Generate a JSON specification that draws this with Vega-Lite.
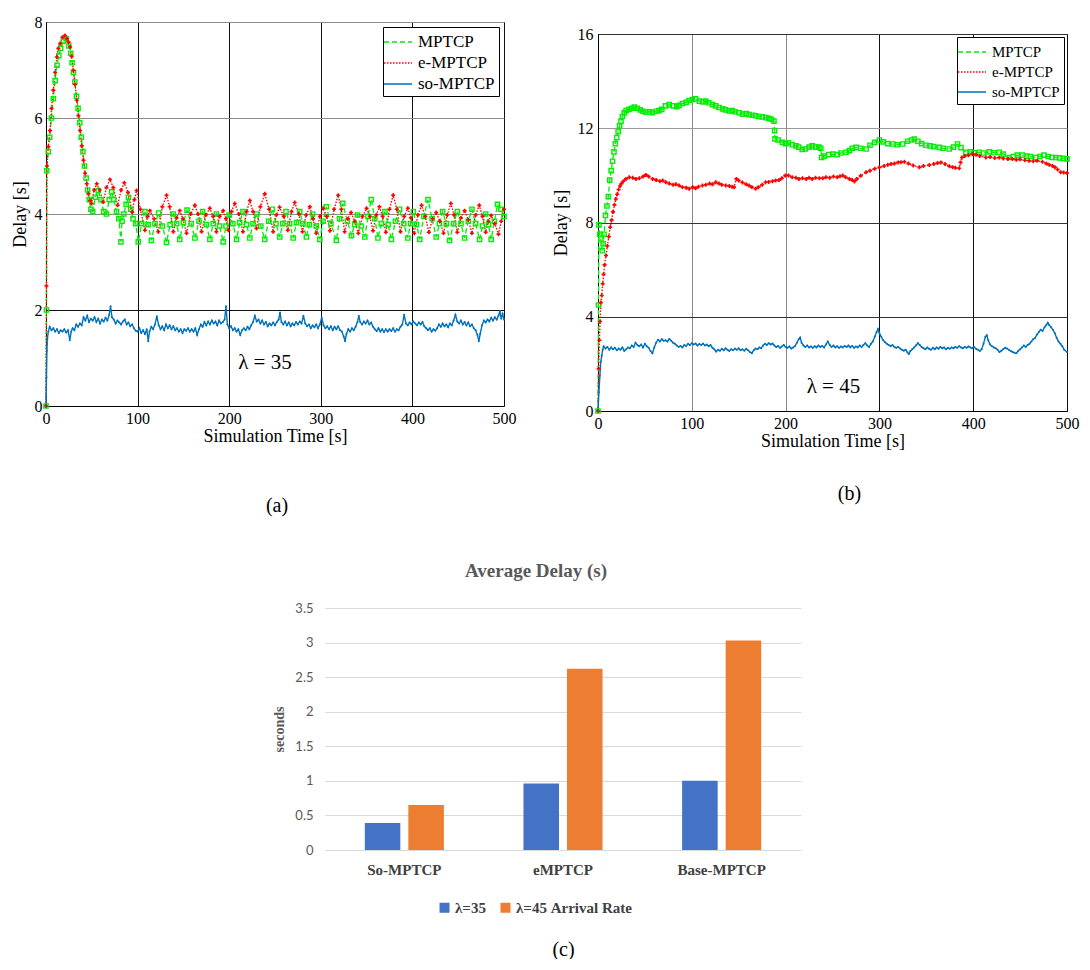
{
"$schema": "https://vega.github.io/schema/vega-lite/v6.json",
"padding": {"left": 10, "top": 13, "right": 0, "bottom": 0},
"background": "white",
"config": {"font": "Liberation Serif"},
"datasets": {
"a": [
{"s":"MPTCP","t":0,"d":0},{"s":"MPTCP","t":0.5,"d":2.0},{"s":"MPTCP","t":0.8,"d":4.9},{"s":"MPTCP","t":2.5,"d":5.3},{"s":"MPTCP","t":4,"d":5.6},{"s":"MPTCP","t":6,"d":6.0},{"s":"MPTCP","t":8,"d":6.4},{"s":"MPTCP","t":10,"d":6.78},{"s":"MPTCP","t":12,"d":7.1},{"s":"MPTCP","t":14,"d":7.3},{"s":"MPTCP","t":16,"d":7.45},{"s":"MPTCP","t":19,"d":7.6},{"s":"MPTCP","t":22,"d":7.65},{"s":"MPTCP","t":25,"d":7.5},{"s":"MPTCP","t":27,"d":7.35},{"s":"MPTCP","t":28.5,"d":7.15},{"s":"MPTCP","t":30,"d":6.95},{"s":"MPTCP","t":31.5,"d":6.75},{"s":"MPTCP","t":33.3,"d":6.45},{"s":"MPTCP","t":35,"d":6.2},{"s":"MPTCP","t":36.8,"d":5.9},{"s":"MPTCP","t":38.5,"d":5.6},{"s":"MPTCP","t":40.3,"d":5.3},{"s":"MPTCP","t":42,"d":5.0},{"s":"MPTCP","t":43.8,"d":4.75},{"s":"MPTCP","t":45.5,"d":4.5},{"s":"MPTCP","t":47.2,"d":4.3},{"s":"MPTCP","t":49,"d":4.1},{"s":"MPTCP","t":51,"d":4.05},{"s":"MPTCP","t":54,"d":4.35},{"s":"MPTCP","t":57,"d":4.49},{"s":"MPTCP","t":60,"d":4.3},{"s":"MPTCP","t":63,"d":4.05},{"s":"MPTCP","t":66,"d":4.0},{"s":"MPTCP","t":69,"d":4.3},{"s":"MPTCP","t":71.6,"d":4.46},{"s":"MPTCP","t":74,"d":4.3},{"s":"MPTCP","t":77,"d":4.05},{"s":"MPTCP","t":79.5,"d":3.9},{"s":"MPTCP","t":81.8,"d":3.42},{"s":"MPTCP","t":83,"d":3.85},{"s":"MPTCP","t":85,"d":4.0},{"s":"MPTCP","t":87.5,"d":4.2},{"s":"MPTCP","t":90,"d":4.35},{"s":"MPTCP","t":92.5,"d":4.1},{"s":"MPTCP","t":95,"d":3.9},{"s":"MPTCP","t":98,"d":3.8},{"s":"MPTCP","t":100.7,"d":3.42},{"s":"MPTCP","t":104.5,"d":3.8},{"s":"MPTCP","t":108,"d":4.05},{"s":"MPTCP","t":111.5,"d":3.78},{"s":"MPTCP","t":115,"d":3.45},{"s":"MPTCP","t":119,"d":3.8},{"s":"MPTCP","t":123,"d":4.02},{"s":"MPTCP","t":127,"d":3.75},{"s":"MPTCP","t":131.6,"d":3.41},{"s":"MPTCP","t":135.5,"d":3.78},{"s":"MPTCP","t":139,"d":4.0},{"s":"MPTCP","t":142.5,"d":3.8},{"s":"MPTCP","t":146,"d":3.47},{"s":"MPTCP","t":150,"d":3.82},{"s":"MPTCP","t":154,"d":4.08},{"s":"MPTCP","t":158.5,"d":3.8},{"s":"MPTCP","t":162.6,"d":3.5},{"s":"MPTCP","t":167,"d":3.85},{"s":"MPTCP","t":171,"d":4.05},{"s":"MPTCP","t":175,"d":3.78},{"s":"MPTCP","t":178.9,"d":3.47},{"s":"MPTCP","t":182.5,"d":3.8},{"s":"MPTCP","t":186,"d":4.0},{"s":"MPTCP","t":189.5,"d":3.75},{"s":"MPTCP","t":193.4,"d":3.42},{"s":"MPTCP","t":196.5,"d":3.75},{"s":"MPTCP","t":200,"d":3.98},{"s":"MPTCP","t":204,"d":3.8},{"s":"MPTCP","t":208,"d":3.47},{"s":"MPTCP","t":211.5,"d":3.82},{"s":"MPTCP","t":215,"d":4.05},{"s":"MPTCP","t":219,"d":3.78},{"s":"MPTCP","t":222.5,"d":3.5},{"s":"MPTCP","t":226,"d":3.8},{"s":"MPTCP","t":230,"d":4.0},{"s":"MPTCP","t":234.5,"d":3.75},{"s":"MPTCP","t":238.8,"d":3.47},{"s":"MPTCP","t":243,"d":3.85},{"s":"MPTCP","t":247,"d":4.1},{"s":"MPTCP","t":251,"d":3.8},{"s":"MPTCP","t":255.2,"d":3.52},{"s":"MPTCP","t":258.5,"d":3.8},{"s":"MPTCP","t":262,"d":4.05},{"s":"MPTCP","t":266,"d":3.8},{"s":"MPTCP","t":269.8,"d":3.5},{"s":"MPTCP","t":273.5,"d":3.82},{"s":"MPTCP","t":277,"d":4.05},{"s":"MPTCP","t":280.5,"d":3.8},{"s":"MPTCP","t":284.3,"d":3.52},{"s":"MPTCP","t":287.5,"d":3.78},{"s":"MPTCP","t":291,"d":4.0},{"s":"MPTCP","t":295,"d":3.75},{"s":"MPTCP","t":298.9,"d":3.47},{"s":"MPTCP","t":302.5,"d":3.85},{"s":"MPTCP","t":306,"d":4.15},{"s":"MPTCP","t":311,"d":3.8},{"s":"MPTCP","t":317,"d":3.45},{"s":"MPTCP","t":320.5,"d":3.9},{"s":"MPTCP","t":324,"d":4.22},{"s":"MPTCP","t":329,"d":3.85},{"s":"MPTCP","t":333.4,"d":3.55},{"s":"MPTCP","t":337,"d":3.78},{"s":"MPTCP","t":340,"d":3.98},{"s":"MPTCP","t":344,"d":3.75},{"s":"MPTCP","t":348,"d":3.52},{"s":"MPTCP","t":351.5,"d":3.95},{"s":"MPTCP","t":355,"d":4.3},{"s":"MPTCP","t":359,"d":3.9},{"s":"MPTCP","t":362.4,"d":3.5},{"s":"MPTCP","t":366,"d":3.8},{"s":"MPTCP","t":370,"d":4.05},{"s":"MPTCP","t":373.5,"d":3.78},{"s":"MPTCP","t":377,"d":3.47},{"s":"MPTCP","t":381.5,"d":3.85},{"s":"MPTCP","t":386,"d":4.1},{"s":"MPTCP","t":390.5,"d":3.8},{"s":"MPTCP","t":395,"d":3.5},{"s":"MPTCP","t":398,"d":3.8},{"s":"MPTCP","t":401,"d":4.05},{"s":"MPTCP","t":404.5,"d":3.78},{"s":"MPTCP","t":408,"d":3.47},{"s":"MPTCP","t":412.5,"d":3.95},{"s":"MPTCP","t":417,"d":4.3},{"s":"MPTCP","t":421.5,"d":3.9},{"s":"MPTCP","t":426,"d":3.52},{"s":"MPTCP","t":429.5,"d":3.8},{"s":"MPTCP","t":433,"d":4.05},{"s":"MPTCP","t":437,"d":3.8},{"s":"MPTCP","t":440.6,"d":3.45},{"s":"MPTCP","t":445,"d":3.8},{"s":"MPTCP","t":449,"d":4.05},{"s":"MPTCP","t":453,"d":3.8},{"s":"MPTCP","t":457,"d":3.5},{"s":"MPTCP","t":461,"d":3.85},{"s":"MPTCP","t":465,"d":4.1},{"s":"MPTCP","t":469,"d":3.8},{"s":"MPTCP","t":473.3,"d":3.47},{"s":"MPTCP","t":476.5,"d":3.75},{"s":"MPTCP","t":480,"d":4.0},{"s":"MPTCP","t":483,"d":3.78},{"s":"MPTCP","t":486,"d":3.47},{"s":"MPTCP","t":489.5,"d":3.85},{"s":"MPTCP","t":493,"d":4.2},{"s":"MPTCP","t":496.5,"d":4.1},{"s":"MPTCP","t":500,"d":3.95},
{"s":"e-MPTCP","t":0,"d":0},{"s":"e-MPTCP","t":0.5,"d":2.5},{"s":"e-MPTCP","t":1,"d":5.0},{"s":"e-MPTCP","t":2.5,"d":5.4},{"s":"e-MPTCP","t":4.4,"d":5.74},{"s":"e-MPTCP","t":6,"d":6.2},{"s":"e-MPTCP","t":8,"d":6.58},{"s":"e-MPTCP","t":10,"d":6.95},{"s":"e-MPTCP","t":11.8,"d":7.27},{"s":"e-MPTCP","t":13.5,"d":7.45},{"s":"e-MPTCP","t":15.4,"d":7.55},{"s":"e-MPTCP","t":18,"d":7.68},{"s":"e-MPTCP","t":20.7,"d":7.72},{"s":"e-MPTCP","t":23,"d":7.65},{"s":"e-MPTCP","t":24.7,"d":7.58},{"s":"e-MPTCP","t":26.3,"d":7.48},{"s":"e-MPTCP","t":28,"d":7.28},{"s":"e-MPTCP","t":29.9,"d":6.99},{"s":"e-MPTCP","t":31.7,"d":6.7},{"s":"e-MPTCP","t":33.6,"d":6.37},{"s":"e-MPTCP","t":35.4,"d":6.05},{"s":"e-MPTCP","t":37.2,"d":5.74},{"s":"e-MPTCP","t":39,"d":5.42},{"s":"e-MPTCP","t":40.9,"d":5.12},{"s":"e-MPTCP","t":42.7,"d":4.85},{"s":"e-MPTCP","t":44.5,"d":4.63},{"s":"e-MPTCP","t":46.3,"d":4.42},{"s":"e-MPTCP","t":48.1,"d":4.28},{"s":"e-MPTCP","t":49.8,"d":4.22},{"s":"e-MPTCP","t":52.5,"d":4.5},{"s":"e-MPTCP","t":55.4,"d":4.63},{"s":"e-MPTCP","t":58.5,"d":4.5},{"s":"e-MPTCP","t":62.6,"d":4.25},{"s":"e-MPTCP","t":66,"d":4.55},{"s":"e-MPTCP","t":69.8,"d":4.72},{"s":"e-MPTCP","t":73.5,"d":4.55},{"s":"e-MPTCP","t":78.2,"d":4.18},{"s":"e-MPTCP","t":82,"d":4.5},{"s":"e-MPTCP","t":85.5,"d":4.65},{"s":"e-MPTCP","t":89.5,"d":4.45},{"s":"e-MPTCP","t":94.2,"d":4.04},{"s":"e-MPTCP","t":96.5,"d":4.3},{"s":"e-MPTCP","t":98.9,"d":4.49},{"s":"e-MPTCP","t":103,"d":4.1},{"s":"e-MPTCP","t":108,"d":3.66},{"s":"e-MPTCP","t":111,"d":3.95},{"s":"e-MPTCP","t":113.4,"d":4.07},{"s":"e-MPTCP","t":118,"d":3.9},{"s":"e-MPTCP","t":122.6,"d":3.63},{"s":"e-MPTCP","t":127,"d":4.15},{"s":"e-MPTCP","t":131.6,"d":4.39},{"s":"e-MPTCP","t":135,"d":4.15},{"s":"e-MPTCP","t":139,"d":3.63},{"s":"e-MPTCP","t":142.5,"d":3.92},{"s":"e-MPTCP","t":146,"d":4.07},{"s":"e-MPTCP","t":149.5,"d":3.9},{"s":"e-MPTCP","t":153.4,"d":3.6},{"s":"e-MPTCP","t":158,"d":4.0},{"s":"e-MPTCP","t":162.5,"d":4.18},{"s":"e-MPTCP","t":166,"d":4.0},{"s":"e-MPTCP","t":169.8,"d":3.63},{"s":"e-MPTCP","t":174.5,"d":3.98},{"s":"e-MPTCP","t":178.8,"d":4.12},{"s":"e-MPTCP","t":182.5,"d":3.95},{"s":"e-MPTCP","t":186,"d":3.63},{"s":"e-MPTCP","t":189.5,"d":3.95},{"s":"e-MPTCP","t":193.4,"d":4.07},{"s":"e-MPTCP","t":196.5,"d":3.9},{"s":"e-MPTCP","t":199,"d":3.66},{"s":"e-MPTCP","t":202.5,"d":4.05},{"s":"e-MPTCP","t":206,"d":4.22},{"s":"e-MPTCP","t":210.5,"d":4.0},{"s":"e-MPTCP","t":215,"d":3.63},{"s":"e-MPTCP","t":219,"d":4.05},{"s":"e-MPTCP","t":222.5,"d":4.28},{"s":"e-MPTCP","t":226,"d":4.05},{"s":"e-MPTCP","t":229.8,"d":3.7},{"s":"e-MPTCP","t":234,"d":4.15},{"s":"e-MPTCP","t":238.8,"d":4.42},{"s":"e-MPTCP","t":243.5,"d":4.1},{"s":"e-MPTCP","t":248,"d":3.63},{"s":"e-MPTCP","t":251.5,"d":3.98},{"s":"e-MPTCP","t":255,"d":4.14},{"s":"e-MPTCP","t":259.5,"d":3.95},{"s":"e-MPTCP","t":264,"d":3.66},{"s":"e-MPTCP","t":268,"d":4.05},{"s":"e-MPTCP","t":271.5,"d":4.24},{"s":"e-MPTCP","t":276,"d":4.0},{"s":"e-MPTCP","t":280,"d":3.63},{"s":"e-MPTCP","t":284,"d":3.98},{"s":"e-MPTCP","t":288,"d":4.15},{"s":"e-MPTCP","t":291.5,"d":3.9},{"s":"e-MPTCP","t":295,"d":3.6},{"s":"e-MPTCP","t":299,"d":3.95},{"s":"e-MPTCP","t":302.5,"d":4.12},{"s":"e-MPTCP","t":306.5,"d":3.95},{"s":"e-MPTCP","t":310,"d":3.65},{"s":"e-MPTCP","t":314.5,"d":4.1},{"s":"e-MPTCP","t":319,"d":4.39},{"s":"e-MPTCP","t":322.5,"d":4.1},{"s":"e-MPTCP","t":326,"d":3.63},{"s":"e-MPTCP","t":329.5,"d":3.9},{"s":"e-MPTCP","t":333,"d":4.03},{"s":"e-MPTCP","t":337,"d":3.85},{"s":"e-MPTCP","t":341,"d":3.6},{"s":"e-MPTCP","t":345.5,"d":3.95},{"s":"e-MPTCP","t":350,"d":4.12},{"s":"e-MPTCP","t":353.5,"d":3.95},{"s":"e-MPTCP","t":357,"d":3.65},{"s":"e-MPTCP","t":360.5,"d":3.98},{"s":"e-MPTCP","t":364,"d":4.15},{"s":"e-MPTCP","t":367.5,"d":3.95},{"s":"e-MPTCP","t":371,"d":3.62},{"s":"e-MPTCP","t":375,"d":4.1},{"s":"e-MPTCP","t":379,"d":4.39},{"s":"e-MPTCP","t":383,"d":4.1},{"s":"e-MPTCP","t":387,"d":3.63},{"s":"e-MPTCP","t":391,"d":3.95},{"s":"e-MPTCP","t":395,"d":4.12},{"s":"e-MPTCP","t":398.5,"d":3.92},{"s":"e-MPTCP","t":402,"d":3.6},{"s":"e-MPTCP","t":406,"d":3.98},{"s":"e-MPTCP","t":410,"d":4.18},{"s":"e-MPTCP","t":414,"d":3.95},{"s":"e-MPTCP","t":418,"d":3.62},{"s":"e-MPTCP","t":422,"d":3.9},{"s":"e-MPTCP","t":426,"d":4.03},{"s":"e-MPTCP","t":430,"d":3.85},{"s":"e-MPTCP","t":434,"d":3.6},{"s":"e-MPTCP","t":438,"d":3.98},{"s":"e-MPTCP","t":442,"d":4.22},{"s":"e-MPTCP","t":445.5,"d":3.98},{"s":"e-MPTCP","t":449,"d":3.62},{"s":"e-MPTCP","t":453,"d":3.92},{"s":"e-MPTCP","t":457,"d":4.07},{"s":"e-MPTCP","t":461,"d":3.88},{"s":"e-MPTCP","t":465,"d":3.6},{"s":"e-MPTCP","t":469,"d":3.98},{"s":"e-MPTCP","t":473,"d":4.18},{"s":"e-MPTCP","t":476.5,"d":3.95},{"s":"e-MPTCP","t":480,"d":3.62},{"s":"e-MPTCP","t":483,"d":3.85},{"s":"e-MPTCP","t":486,"d":3.97},{"s":"e-MPTCP","t":490,"d":3.8},{"s":"e-MPTCP","t":494,"d":3.58},{"s":"e-MPTCP","t":497,"d":3.85},{"s":"e-MPTCP","t":500,"d":4.1},
{"s":"so-MPTCP","t":0,"d":0},{"s":"so-MPTCP","t":0.5,"d":0.6},{"s":"so-MPTCP","t":1,"d":1.15},{"s":"so-MPTCP","t":1.5,"d":1.4},{"s":"so-MPTCP","t":2.5,"d":1.55},{"s":"so-MPTCP","t":4,"d":1.65},{"s":"so-MPTCP","t":6,"d":1.58},{"s":"so-MPTCP","t":8,"d":1.62},{"s":"so-MPTCP","t":10,"d":1.55},{"s":"so-MPTCP","t":12,"d":1.6},{"s":"so-MPTCP","t":14,"d":1.52},{"s":"so-MPTCP","t":16,"d":1.58},{"s":"so-MPTCP","t":18,"d":1.55},{"s":"so-MPTCP","t":20,"d":1.6},{"s":"so-MPTCP","t":22,"d":1.53},{"s":"so-MPTCP","t":24,"d":1.58},{"s":"so-MPTCP","t":26,"d":1.37},{"s":"so-MPTCP","t":27.5,"d":1.55},{"s":"so-MPTCP","t":29,"d":1.62},{"s":"so-MPTCP","t":31,"d":1.58},{"s":"so-MPTCP","t":33,"d":1.7},{"s":"so-MPTCP","t":35,"d":1.65},{"s":"so-MPTCP","t":37,"d":1.72},{"s":"so-MPTCP","t":39,"d":1.68},{"s":"so-MPTCP","t":41,"d":1.85},{"s":"so-MPTCP","t":43,"d":1.78},{"s":"so-MPTCP","t":45,"d":1.88},{"s":"so-MPTCP","t":47,"d":1.75},{"s":"so-MPTCP","t":49,"d":1.82},{"s":"so-MPTCP","t":51,"d":1.78},{"s":"so-MPTCP","t":53,"d":1.85},{"s":"so-MPTCP","t":55,"d":1.75},{"s":"so-MPTCP","t":57,"d":1.82},{"s":"so-MPTCP","t":59,"d":1.72},{"s":"so-MPTCP","t":61,"d":1.8},{"s":"so-MPTCP","t":63,"d":1.76},{"s":"so-MPTCP","t":65,"d":1.84},{"s":"so-MPTCP","t":67,"d":1.78},{"s":"so-MPTCP","t":69,"d":1.9},{"s":"so-MPTCP","t":70.5,"d":2.08},{"s":"so-MPTCP","t":72,"d":1.85},{"s":"so-MPTCP","t":74,"d":1.8},{"s":"so-MPTCP","t":76,"d":1.72},{"s":"so-MPTCP","t":78,"d":1.78},{"s":"so-MPTCP","t":80,"d":1.74},{"s":"so-MPTCP","t":82,"d":1.7},{"s":"so-MPTCP","t":84,"d":1.76},{"s":"so-MPTCP","t":86,"d":1.8},{"s":"so-MPTCP","t":88,"d":1.7},{"s":"so-MPTCP","t":90,"d":1.74},{"s":"so-MPTCP","t":92,"d":1.66},{"s":"so-MPTCP","t":94,"d":1.7},{"s":"so-MPTCP","t":96,"d":1.62},{"s":"so-MPTCP","t":98,"d":1.57},{"s":"so-MPTCP","t":100,"d":1.55},{"s":"so-MPTCP","t":102,"d":1.62},{"s":"so-MPTCP","t":104,"d":1.52},{"s":"so-MPTCP","t":106,"d":1.58},{"s":"so-MPTCP","t":108,"d":1.5},{"s":"so-MPTCP","t":110,"d":1.6},{"s":"so-MPTCP","t":111.6,"d":1.35},{"s":"so-MPTCP","t":113,"d":1.55},{"s":"so-MPTCP","t":115,"d":1.65},{"s":"so-MPTCP","t":117,"d":1.6},{"s":"so-MPTCP","t":119,"d":1.7},{"s":"so-MPTCP","t":121,"d":1.87},{"s":"so-MPTCP","t":123,"d":1.68},{"s":"so-MPTCP","t":125,"d":1.6},{"s":"so-MPTCP","t":127,"d":1.66},{"s":"so-MPTCP","t":129,"d":1.58},{"s":"so-MPTCP","t":131,"d":1.7},{"s":"so-MPTCP","t":133,"d":1.62},{"s":"so-MPTCP","t":135,"d":1.68},{"s":"so-MPTCP","t":137,"d":1.6},{"s":"so-MPTCP","t":139,"d":1.66},{"s":"so-MPTCP","t":141,"d":1.58},{"s":"so-MPTCP","t":143,"d":1.62},{"s":"so-MPTCP","t":145,"d":1.55},{"s":"so-MPTCP","t":147,"d":1.6},{"s":"so-MPTCP","t":149,"d":1.52},{"s":"so-MPTCP","t":151,"d":1.6},{"s":"so-MPTCP","t":153,"d":1.57},{"s":"so-MPTCP","t":155,"d":1.62},{"s":"so-MPTCP","t":157,"d":1.55},{"s":"so-MPTCP","t":159,"d":1.6},{"s":"so-MPTCP","t":161,"d":1.55},{"s":"so-MPTCP","t":163,"d":1.62},{"s":"so-MPTCP","t":165,"d":1.48},{"s":"so-MPTCP","t":167,"d":1.6},{"s":"so-MPTCP","t":169,"d":1.7},{"s":"so-MPTCP","t":171,"d":1.65},{"s":"so-MPTCP","t":173,"d":1.75},{"s":"so-MPTCP","t":175,"d":1.68},{"s":"so-MPTCP","t":177,"d":1.76},{"s":"so-MPTCP","t":179,"d":1.7},{"s":"so-MPTCP","t":181,"d":1.78},{"s":"so-MPTCP","t":183,"d":1.72},{"s":"so-MPTCP","t":185,"d":1.76},{"s":"so-MPTCP","t":187,"d":1.68},{"s":"so-MPTCP","t":189,"d":1.78},{"s":"so-MPTCP","t":191,"d":1.72},{"s":"so-MPTCP","t":193,"d":1.75},{"s":"so-MPTCP","t":195,"d":1.8},{"s":"so-MPTCP","t":196.5,"d":2.08},{"s":"so-MPTCP","t":198,"d":1.7},{"s":"so-MPTCP","t":200,"d":1.62},{"s":"so-MPTCP","t":202,"d":1.66},{"s":"so-MPTCP","t":204,"d":1.58},{"s":"so-MPTCP","t":206,"d":1.62},{"s":"so-MPTCP","t":208,"d":1.55},{"s":"so-MPTCP","t":210,"d":1.6},{"s":"so-MPTCP","t":212,"d":1.48},{"s":"so-MPTCP","t":214,"d":1.58},{"s":"so-MPTCP","t":216,"d":1.62},{"s":"so-MPTCP","t":218,"d":1.58},{"s":"so-MPTCP","t":220,"d":1.65},{"s":"so-MPTCP","t":222,"d":1.6},{"s":"so-MPTCP","t":224,"d":1.68},{"s":"so-MPTCP","t":226,"d":1.75},{"s":"so-MPTCP","t":228,"d":1.88},{"s":"so-MPTCP","t":230,"d":1.76},{"s":"so-MPTCP","t":232,"d":1.8},{"s":"so-MPTCP","t":234,"d":1.72},{"s":"so-MPTCP","t":236,"d":1.78},{"s":"so-MPTCP","t":238,"d":1.7},{"s":"so-MPTCP","t":240,"d":1.75},{"s":"so-MPTCP","t":242,"d":1.66},{"s":"so-MPTCP","t":244,"d":1.72},{"s":"so-MPTCP","t":246,"d":1.68},{"s":"so-MPTCP","t":248,"d":1.74},{"s":"so-MPTCP","t":250,"d":1.68},{"s":"so-MPTCP","t":252,"d":1.75},{"s":"so-MPTCP","t":254,"d":1.8},{"s":"so-MPTCP","t":255.5,"d":1.95},{"s":"so-MPTCP","t":257,"d":1.75},{"s":"so-MPTCP","t":259,"d":1.7},{"s":"so-MPTCP","t":261,"d":1.76},{"s":"so-MPTCP","t":263,"d":1.68},{"s":"so-MPTCP","t":265,"d":1.74},{"s":"so-MPTCP","t":267,"d":1.66},{"s":"so-MPTCP","t":269,"d":1.72},{"s":"so-MPTCP","t":271,"d":1.68},{"s":"so-MPTCP","t":273,"d":1.75},{"s":"so-MPTCP","t":275,"d":1.7},{"s":"so-MPTCP","t":277,"d":1.76},{"s":"so-MPTCP","t":279,"d":1.72},{"s":"so-MPTCP","t":281,"d":1.88},{"s":"so-MPTCP","t":283,"d":1.72},{"s":"so-MPTCP","t":285,"d":1.66},{"s":"so-MPTCP","t":287,"d":1.7},{"s":"so-MPTCP","t":289,"d":1.62},{"s":"so-MPTCP","t":291,"d":1.68},{"s":"so-MPTCP","t":293,"d":1.64},{"s":"so-MPTCP","t":295,"d":1.7},{"s":"so-MPTCP","t":297,"d":1.62},{"s":"so-MPTCP","t":299,"d":1.7},{"s":"so-MPTCP","t":301,"d":1.84},{"s":"so-MPTCP","t":303,"d":1.68},{"s":"so-MPTCP","t":305,"d":1.62},{"s":"so-MPTCP","t":307,"d":1.66},{"s":"so-MPTCP","t":309,"d":1.6},{"s":"so-MPTCP","t":311,"d":1.66},{"s":"so-MPTCP","t":313,"d":1.58},{"s":"so-MPTCP","t":315,"d":1.65},{"s":"so-MPTCP","t":317,"d":1.6},{"s":"so-MPTCP","t":319,"d":1.66},{"s":"so-MPTCP","t":321,"d":1.58},{"s":"so-MPTCP","t":323,"d":1.55},{"s":"so-MPTCP","t":325,"d":1.45},{"s":"so-MPTCP","t":326.5,"d":1.35},{"s":"so-MPTCP","t":328,"d":1.5},{"s":"so-MPTCP","t":330,"d":1.6},{"s":"so-MPTCP","t":332,"d":1.55},{"s":"so-MPTCP","t":334,"d":1.62},{"s":"so-MPTCP","t":336,"d":1.58},{"s":"so-MPTCP","t":338,"d":1.65},{"s":"so-MPTCP","t":340,"d":1.75},{"s":"so-MPTCP","t":341.5,"d":1.88},{"s":"so-MPTCP","t":343,"d":1.75},{"s":"so-MPTCP","t":345,"d":1.7},{"s":"so-MPTCP","t":347,"d":1.76},{"s":"so-MPTCP","t":349,"d":1.72},{"s":"so-MPTCP","t":351,"d":1.78},{"s":"so-MPTCP","t":353,"d":1.7},{"s":"so-MPTCP","t":355,"d":1.74},{"s":"so-MPTCP","t":357,"d":1.65},{"s":"so-MPTCP","t":359,"d":1.6},{"s":"so-MPTCP","t":361,"d":1.56},{"s":"so-MPTCP","t":363,"d":1.62},{"s":"so-MPTCP","t":365,"d":1.55},{"s":"so-MPTCP","t":367,"d":1.6},{"s":"so-MPTCP","t":369,"d":1.54},{"s":"so-MPTCP","t":371,"d":1.6},{"s":"so-MPTCP","t":373,"d":1.55},{"s":"so-MPTCP","t":375,"d":1.6},{"s":"so-MPTCP","t":377,"d":1.56},{"s":"so-MPTCP","t":379,"d":1.62},{"s":"so-MPTCP","t":381,"d":1.55},{"s":"so-MPTCP","t":383,"d":1.6},{"s":"so-MPTCP","t":385,"d":1.58},{"s":"so-MPTCP","t":387,"d":1.65},{"s":"so-MPTCP","t":389,"d":1.7},{"s":"so-MPTCP","t":391,"d":1.9},{"s":"so-MPTCP","t":393,"d":1.72},{"s":"so-MPTCP","t":395,"d":1.68},{"s":"so-MPTCP","t":397,"d":1.74},{"s":"so-MPTCP","t":399,"d":1.7},{"s":"so-MPTCP","t":401,"d":1.76},{"s":"so-MPTCP","t":403,"d":1.72},{"s":"so-MPTCP","t":405,"d":1.68},{"s":"so-MPTCP","t":407,"d":1.74},{"s":"so-MPTCP","t":409,"d":1.7},{"s":"so-MPTCP","t":411,"d":1.75},{"s":"so-MPTCP","t":413,"d":1.66},{"s":"so-MPTCP","t":415,"d":1.62},{"s":"so-MPTCP","t":417,"d":1.58},{"s":"so-MPTCP","t":419,"d":1.62},{"s":"so-MPTCP","t":421,"d":1.55},{"s":"so-MPTCP","t":423,"d":1.6},{"s":"so-MPTCP","t":425,"d":1.57},{"s":"so-MPTCP","t":427,"d":1.62},{"s":"so-MPTCP","t":429,"d":1.7},{"s":"so-MPTCP","t":431,"d":1.65},{"s":"so-MPTCP","t":433,"d":1.72},{"s":"so-MPTCP","t":435,"d":1.66},{"s":"so-MPTCP","t":437,"d":1.7},{"s":"so-MPTCP","t":439,"d":1.64},{"s":"so-MPTCP","t":441,"d":1.72},{"s":"so-MPTCP","t":443,"d":1.68},{"s":"so-MPTCP","t":445,"d":1.78},{"s":"so-MPTCP","t":447,"d":1.9},{"s":"so-MPTCP","t":449,"d":1.76},{"s":"so-MPTCP","t":451,"d":1.72},{"s":"so-MPTCP","t":453,"d":1.78},{"s":"so-MPTCP","t":455,"d":1.7},{"s":"so-MPTCP","t":457,"d":1.75},{"s":"so-MPTCP","t":459,"d":1.68},{"s":"so-MPTCP","t":461,"d":1.74},{"s":"so-MPTCP","t":463,"d":1.66},{"s":"so-MPTCP","t":465,"d":1.7},{"s":"so-MPTCP","t":467,"d":1.62},{"s":"so-MPTCP","t":469,"d":1.58},{"s":"so-MPTCP","t":471,"d":1.48},{"s":"so-MPTCP","t":472.5,"d":1.35},{"s":"so-MPTCP","t":474,"d":1.5},{"s":"so-MPTCP","t":476,"d":1.68},{"s":"so-MPTCP","t":478,"d":1.78},{"s":"so-MPTCP","t":480,"d":1.74},{"s":"so-MPTCP","t":482,"d":1.8},{"s":"so-MPTCP","t":484,"d":1.76},{"s":"so-MPTCP","t":486,"d":1.84},{"s":"so-MPTCP","t":488,"d":1.78},{"s":"so-MPTCP","t":490,"d":1.85},{"s":"so-MPTCP","t":492,"d":1.8},{"s":"so-MPTCP","t":494,"d":1.88},{"s":"so-MPTCP","t":495.5,"d":1.98},{"s":"so-MPTCP","t":497,"d":1.82},{"s":"so-MPTCP","t":498.5,"d":1.92},{"s":"so-MPTCP","t":500,"d":1.8}
],
"b": [
{"s":"MPTCP","t":0,"d":0},{"s":"MPTCP","t":0.5,"d":4.5},{"s":"MPTCP","t":1,"d":7.9},{"s":"MPTCP","t":2,"d":7.5},{"s":"MPTCP","t":3,"d":7.3},{"s":"MPTCP","t":4.5,"d":6.8},{"s":"MPTCP","t":5.5,"d":7.1},{"s":"MPTCP","t":6.5,"d":7.5},{"s":"MPTCP","t":8,"d":8.3},{"s":"MPTCP","t":9.5,"d":8.7},{"s":"MPTCP","t":11,"d":9.1},{"s":"MPTCP","t":12.5,"d":9.8},{"s":"MPTCP","t":14,"d":10.2},{"s":"MPTCP","t":15.5,"d":10.6},{"s":"MPTCP","t":17,"d":11.0},{"s":"MPTCP","t":18.5,"d":11.35},{"s":"MPTCP","t":20,"d":11.6},{"s":"MPTCP","t":21.5,"d":11.85},{"s":"MPTCP","t":23,"d":12.1},{"s":"MPTCP","t":24.5,"d":12.3},{"s":"MPTCP","t":26,"d":12.5},{"s":"MPTCP","t":28,"d":12.65},{"s":"MPTCP","t":30,"d":12.75},{"s":"MPTCP","t":33,"d":12.8},{"s":"MPTCP","t":36,"d":12.85},{"s":"MPTCP","t":38.7,"d":12.9},{"s":"MPTCP","t":42,"d":12.85},{"s":"MPTCP","t":45,"d":12.78},{"s":"MPTCP","t":48,"d":12.72},{"s":"MPTCP","t":51,"d":12.68},{"s":"MPTCP","t":55,"d":12.7},{"s":"MPTCP","t":58,"d":12.66},{"s":"MPTCP","t":62,"d":12.72},{"s":"MPTCP","t":65,"d":12.75},{"s":"MPTCP","t":68,"d":12.8},{"s":"MPTCP","t":72,"d":12.95},{"s":"MPTCP","t":75.9,"d":13.0},{"s":"MPTCP","t":80,"d":12.95},{"s":"MPTCP","t":84,"d":12.92},{"s":"MPTCP","t":86.5,"d":12.97},{"s":"MPTCP","t":90,"d":13.05},{"s":"MPTCP","t":94,"d":13.1},{"s":"MPTCP","t":97,"d":13.18},{"s":"MPTCP","t":100.7,"d":13.22},{"s":"MPTCP","t":104,"d":13.25},{"s":"MPTCP","t":108,"d":13.15},{"s":"MPTCP","t":112,"d":13.12},{"s":"MPTCP","t":114.9,"d":13.15},{"s":"MPTCP","t":118,"d":13.08},{"s":"MPTCP","t":122,"d":13.0},{"s":"MPTCP","t":125.5,"d":12.95},{"s":"MPTCP","t":129,"d":12.88},{"s":"MPTCP","t":133,"d":12.82},{"s":"MPTCP","t":136,"d":12.78},{"s":"MPTCP","t":139.7,"d":12.73},{"s":"MPTCP","t":143,"d":12.75},{"s":"MPTCP","t":146,"d":12.7},{"s":"MPTCP","t":150.4,"d":12.66},{"s":"MPTCP","t":154,"d":12.6},{"s":"MPTCP","t":158,"d":12.62},{"s":"MPTCP","t":161,"d":12.58},{"s":"MPTCP","t":165,"d":12.55},{"s":"MPTCP","t":168,"d":12.53},{"s":"MPTCP","t":171.6,"d":12.5},{"s":"MPTCP","t":175,"d":12.48},{"s":"MPTCP","t":179,"d":12.45},{"s":"MPTCP","t":182.3,"d":12.42},{"s":"MPTCP","t":185,"d":12.38},{"s":"MPTCP","t":187.6,"d":12.3},{"s":"MPTCP","t":188.3,"d":11.9},{"s":"MPTCP","t":188.7,"d":11.55},{"s":"MPTCP","t":192,"d":11.5},{"s":"MPTCP","t":196.5,"d":11.4},{"s":"MPTCP","t":200,"d":11.35},{"s":"MPTCP","t":203,"d":11.38},{"s":"MPTCP","t":207,"d":11.3},{"s":"MPTCP","t":211,"d":11.25},{"s":"MPTCP","t":214,"d":11.2},{"s":"MPTCP","t":217.7,"d":11.1},{"s":"MPTCP","t":221,"d":11.12},{"s":"MPTCP","t":225,"d":11.2},{"s":"MPTCP","t":228.4,"d":11.25},{"s":"MPTCP","t":232,"d":11.2},{"s":"MPTCP","t":235.5,"d":11.2},{"s":"MPTCP","t":237.5,"d":11.15},{"s":"MPTCP","t":238.3,"d":10.76},{"s":"MPTCP","t":241,"d":10.82},{"s":"MPTCP","t":246,"d":10.88},{"s":"MPTCP","t":250.4,"d":10.9},{"s":"MPTCP","t":255,"d":10.88},{"s":"MPTCP","t":259,"d":10.95},{"s":"MPTCP","t":264.5,"d":10.98},{"s":"MPTCP","t":268,"d":11.05},{"s":"MPTCP","t":271,"d":11.15},{"s":"MPTCP","t":275.2,"d":11.19},{"s":"MPTCP","t":280,"d":11.15},{"s":"MPTCP","t":285.8,"d":11.12},{"s":"MPTCP","t":290,"d":11.28},{"s":"MPTCP","t":295,"d":11.4},{"s":"MPTCP","t":300,"d":11.5},{"s":"MPTCP","t":304,"d":11.42},{"s":"MPTCP","t":309,"d":11.35},{"s":"MPTCP","t":314.2,"d":11.33},{"s":"MPTCP","t":319,"d":11.3},{"s":"MPTCP","t":324.8,"d":11.33},{"s":"MPTCP","t":330,"d":11.45},{"s":"MPTCP","t":334,"d":11.5},{"s":"MPTCP","t":337.2,"d":11.54},{"s":"MPTCP","t":341,"d":11.45},{"s":"MPTCP","t":345,"d":11.35},{"s":"MPTCP","t":349.6,"d":11.28},{"s":"MPTCP","t":354,"d":11.25},{"s":"MPTCP","t":358,"d":11.22},{"s":"MPTCP","t":363.8,"d":11.19},{"s":"MPTCP","t":368,"d":11.15},{"s":"MPTCP","t":374.5,"d":11.12},{"s":"MPTCP","t":379,"d":11.2},{"s":"MPTCP","t":383.3,"d":11.33},{"s":"MPTCP","t":387,"d":11.18},{"s":"MPTCP","t":392.2,"d":10.98},{"s":"MPTCP","t":397,"d":11.0},{"s":"MPTCP","t":401,"d":10.96},{"s":"MPTCP","t":406.4,"d":10.98},{"s":"MPTCP","t":411,"d":10.95},{"s":"MPTCP","t":417,"d":11.0},{"s":"MPTCP","t":422,"d":10.96},{"s":"MPTCP","t":427.7,"d":10.98},{"s":"MPTCP","t":432,"d":10.9},{"s":"MPTCP","t":438.3,"d":10.76},{"s":"MPTCP","t":443,"d":10.8},{"s":"MPTCP","t":447,"d":10.86},{"s":"MPTCP","t":452.5,"d":10.86},{"s":"MPTCP","t":457,"d":10.82},{"s":"MPTCP","t":461,"d":10.8},{"s":"MPTCP","t":466.7,"d":10.76},{"s":"MPTCP","t":471,"d":10.8},{"s":"MPTCP","t":475.5,"d":10.86},{"s":"MPTCP","t":480,"d":10.8},{"s":"MPTCP","t":484,"d":10.76},{"s":"MPTCP","t":488,"d":10.76},{"s":"MPTCP","t":492,"d":10.74},{"s":"MPTCP","t":496,"d":10.72},{"s":"MPTCP","t":500,"d":10.7},
{"s":"e-MPTCP","t":0,"d":0},{"s":"e-MPTCP","t":0.7,"d":1.8},{"s":"e-MPTCP","t":1.5,"d":3.0},{"s":"e-MPTCP","t":2.2,"d":3.8},{"s":"e-MPTCP","t":3,"d":4.6},{"s":"e-MPTCP","t":4,"d":4.9},{"s":"e-MPTCP","t":5,"d":5.4},{"s":"e-MPTCP","t":6,"d":5.8},{"s":"e-MPTCP","t":7,"d":6.2},{"s":"e-MPTCP","t":8.5,"d":6.6},{"s":"e-MPTCP","t":10,"d":7.0},{"s":"e-MPTCP","t":11.5,"d":7.4},{"s":"e-MPTCP","t":13,"d":7.8},{"s":"e-MPTCP","t":14.5,"d":8.1},{"s":"e-MPTCP","t":16,"d":8.45},{"s":"e-MPTCP","t":17.5,"d":8.75},{"s":"e-MPTCP","t":19,"d":9.0},{"s":"e-MPTCP","t":20.5,"d":9.2},{"s":"e-MPTCP","t":22,"d":9.4},{"s":"e-MPTCP","t":23.5,"d":9.55},{"s":"e-MPTCP","t":25,"d":9.65},{"s":"e-MPTCP","t":27,"d":9.75},{"s":"e-MPTCP","t":29.8,"d":9.85},{"s":"e-MPTCP","t":33.3,"d":9.92},{"s":"e-MPTCP","t":37,"d":9.9},{"s":"e-MPTCP","t":40.4,"d":9.85},{"s":"e-MPTCP","t":44,"d":9.88},{"s":"e-MPTCP","t":48,"d":9.95},{"s":"e-MPTCP","t":51,"d":10.02},{"s":"e-MPTCP","t":54,"d":9.95},{"s":"e-MPTCP","t":58.2,"d":9.85},{"s":"e-MPTCP","t":62,"d":9.8},{"s":"e-MPTCP","t":66,"d":9.75},{"s":"e-MPTCP","t":69,"d":9.78},{"s":"e-MPTCP","t":72.3,"d":9.71},{"s":"e-MPTCP","t":76,"d":9.65},{"s":"e-MPTCP","t":80,"d":9.6},{"s":"e-MPTCP","t":83,"d":9.62},{"s":"e-MPTCP","t":86.5,"d":9.57},{"s":"e-MPTCP","t":90,"d":9.5},{"s":"e-MPTCP","t":94,"d":9.48},{"s":"e-MPTCP","t":97.2,"d":9.43},{"s":"e-MPTCP","t":101,"d":9.5},{"s":"e-MPTCP","t":104,"d":9.45},{"s":"e-MPTCP","t":107,"d":9.52},{"s":"e-MPTCP","t":111.3,"d":9.57},{"s":"e-MPTCP","t":115,"d":9.6},{"s":"e-MPTCP","t":119,"d":9.65},{"s":"e-MPTCP","t":122,"d":9.62},{"s":"e-MPTCP","t":125.5,"d":9.71},{"s":"e-MPTCP","t":129,"d":9.65},{"s":"e-MPTCP","t":132,"d":9.6},{"s":"e-MPTCP","t":136.2,"d":9.57},{"s":"e-MPTCP","t":140,"d":9.55},{"s":"e-MPTCP","t":143,"d":9.52},{"s":"e-MPTCP","t":145,"d":9.5},{"s":"e-MPTCP","t":147.5,"d":9.85},{"s":"e-MPTCP","t":150,"d":9.78},{"s":"e-MPTCP","t":154,"d":9.7},{"s":"e-MPTCP","t":158,"d":9.62},{"s":"e-MPTCP","t":161,"d":9.57},{"s":"e-MPTCP","t":164,"d":9.5},{"s":"e-MPTCP","t":168,"d":9.43},{"s":"e-MPTCP","t":171,"d":9.5},{"s":"e-MPTCP","t":175,"d":9.6},{"s":"e-MPTCP","t":178.7,"d":9.71},{"s":"e-MPTCP","t":182,"d":9.72},{"s":"e-MPTCP","t":186,"d":9.75},{"s":"e-MPTCP","t":189.4,"d":9.78},{"s":"e-MPTCP","t":193,"d":9.8},{"s":"e-MPTCP","t":196,"d":9.88},{"s":"e-MPTCP","t":199.6,"d":9.99},{"s":"e-MPTCP","t":203,"d":10.0},{"s":"e-MPTCP","t":207,"d":9.92},{"s":"e-MPTCP","t":211,"d":9.9},{"s":"e-MPTCP","t":214.2,"d":9.85},{"s":"e-MPTCP","t":218,"d":9.88},{"s":"e-MPTCP","t":222,"d":9.85},{"s":"e-MPTCP","t":225,"d":9.9},{"s":"e-MPTCP","t":228.4,"d":9.85},{"s":"e-MPTCP","t":232,"d":9.9},{"s":"e-MPTCP","t":236,"d":9.88},{"s":"e-MPTCP","t":239.7,"d":9.88},{"s":"e-MPTCP","t":243,"d":9.92},{"s":"e-MPTCP","t":247,"d":9.9},{"s":"e-MPTCP","t":251,"d":9.95},{"s":"e-MPTCP","t":255,"d":9.92},{"s":"e-MPTCP","t":258,"d":9.96},{"s":"e-MPTCP","t":261,"d":9.99},{"s":"e-MPTCP","t":264,"d":9.92},{"s":"e-MPTCP","t":268,"d":9.85},{"s":"e-MPTCP","t":271,"d":9.8},{"s":"e-MPTCP","t":273.4,"d":9.74},{"s":"e-MPTCP","t":276,"d":9.85},{"s":"e-MPTCP","t":280,"d":9.98},{"s":"e-MPTCP","t":285.8,"d":10.13},{"s":"e-MPTCP","t":290,"d":10.2},{"s":"e-MPTCP","t":295,"d":10.28},{"s":"e-MPTCP","t":300,"d":10.34},{"s":"e-MPTCP","t":305,"d":10.4},{"s":"e-MPTCP","t":309,"d":10.45},{"s":"e-MPTCP","t":312.4,"d":10.48},{"s":"e-MPTCP","t":316,"d":10.5},{"s":"e-MPTCP","t":320,"d":10.55},{"s":"e-MPTCP","t":323,"d":10.56},{"s":"e-MPTCP","t":326.6,"d":10.58},{"s":"e-MPTCP","t":331,"d":10.5},{"s":"e-MPTCP","t":336,"d":10.42},{"s":"e-MPTCP","t":342.6,"d":10.34},{"s":"e-MPTCP","t":347,"d":10.4},{"s":"e-MPTCP","t":353.2,"d":10.44},{"s":"e-MPTCP","t":358,"d":10.48},{"s":"e-MPTCP","t":362,"d":10.52},{"s":"e-MPTCP","t":365.6,"d":10.55},{"s":"e-MPTCP","t":370,"d":10.48},{"s":"e-MPTCP","t":374.5,"d":10.39},{"s":"e-MPTCP","t":378,"d":10.35},{"s":"e-MPTCP","t":381,"d":10.32},{"s":"e-MPTCP","t":385.1,"d":10.3},{"s":"e-MPTCP","t":386.5,"d":10.55},{"s":"e-MPTCP","t":388,"d":10.76},{"s":"e-MPTCP","t":391,"d":10.82},{"s":"e-MPTCP","t":395,"d":10.85},{"s":"e-MPTCP","t":399.3,"d":10.9},{"s":"e-MPTCP","t":403,"d":10.88},{"s":"e-MPTCP","t":407,"d":10.82},{"s":"e-MPTCP","t":413.5,"d":10.76},{"s":"e-MPTCP","t":418,"d":10.78},{"s":"e-MPTCP","t":423,"d":10.74},{"s":"e-MPTCP","t":427.7,"d":10.76},{"s":"e-MPTCP","t":432,"d":10.72},{"s":"e-MPTCP","t":437,"d":10.7},{"s":"e-MPTCP","t":441.8,"d":10.69},{"s":"e-MPTCP","t":446,"d":10.66},{"s":"e-MPTCP","t":450,"d":10.68},{"s":"e-MPTCP","t":455,"d":10.64},{"s":"e-MPTCP","t":459.6,"d":10.62},{"s":"e-MPTCP","t":464,"d":10.6},{"s":"e-MPTCP","t":468,"d":10.62},{"s":"e-MPTCP","t":473.8,"d":10.58},{"s":"e-MPTCP","t":478,"d":10.5},{"s":"e-MPTCP","t":481,"d":10.45},{"s":"e-MPTCP","t":484.4,"d":10.41},{"s":"e-MPTCP","t":487,"d":10.35},{"s":"e-MPTCP","t":490,"d":10.25},{"s":"e-MPTCP","t":493.3,"d":10.13},{"s":"e-MPTCP","t":496.5,"d":10.12},{"s":"e-MPTCP","t":500,"d":10.1},
{"s":"so-MPTCP","t":0,"d":0},{"s":"so-MPTCP","t":1,"d":0.8},{"s":"so-MPTCP","t":2,"d":1.5},{"s":"so-MPTCP","t":3,"d":2.1},{"s":"so-MPTCP","t":4,"d":2.35},{"s":"so-MPTCP","t":5,"d":2.6},{"s":"so-MPTCP","t":6,"d":2.75},{"s":"so-MPTCP","t":8,"d":2.65},{"s":"so-MPTCP","t":10,"d":2.72},{"s":"so-MPTCP","t":12,"d":2.6},{"s":"so-MPTCP","t":14,"d":2.7},{"s":"so-MPTCP","t":16,"d":2.62},{"s":"so-MPTCP","t":18,"d":2.68},{"s":"so-MPTCP","t":20,"d":2.58},{"s":"so-MPTCP","t":22,"d":2.65},{"s":"so-MPTCP","t":24,"d":2.6},{"s":"so-MPTCP","t":26,"d":2.7},{"s":"so-MPTCP","t":28,"d":2.55},{"s":"so-MPTCP","t":30,"d":2.62},{"s":"so-MPTCP","t":32,"d":2.7},{"s":"so-MPTCP","t":34,"d":2.66},{"s":"so-MPTCP","t":36,"d":2.78},{"s":"so-MPTCP","t":38,"d":2.72},{"s":"so-MPTCP","t":40,"d":2.9},{"s":"so-MPTCP","t":42,"d":2.8},{"s":"so-MPTCP","t":44,"d":2.75},{"s":"so-MPTCP","t":46,"d":2.82},{"s":"so-MPTCP","t":48,"d":2.7},{"s":"so-MPTCP","t":50,"d":2.85},{"s":"so-MPTCP","t":52,"d":2.75},{"s":"so-MPTCP","t":54,"d":2.68},{"s":"so-MPTCP","t":56,"d":2.55},{"s":"so-MPTCP","t":58,"d":2.45},{"s":"so-MPTCP","t":60,"d":2.7},{"s":"so-MPTCP","t":62,"d":2.9},{"s":"so-MPTCP","t":64,"d":3.02},{"s":"so-MPTCP","t":66,"d":2.95},{"s":"so-MPTCP","t":68,"d":3.05},{"s":"so-MPTCP","t":70,"d":2.98},{"s":"so-MPTCP","t":72,"d":3.0},{"s":"so-MPTCP","t":74,"d":2.95},{"s":"so-MPTCP","t":76,"d":3.06},{"s":"so-MPTCP","t":78,"d":2.98},{"s":"so-MPTCP","t":80,"d":2.9},{"s":"so-MPTCP","t":82,"d":2.85},{"s":"so-MPTCP","t":84,"d":2.78},{"s":"so-MPTCP","t":86,"d":2.72},{"s":"so-MPTCP","t":88,"d":2.76},{"s":"so-MPTCP","t":90,"d":2.7},{"s":"so-MPTCP","t":92,"d":2.8},{"s":"so-MPTCP","t":94,"d":2.76},{"s":"so-MPTCP","t":96,"d":2.85},{"s":"so-MPTCP","t":98,"d":2.8},{"s":"so-MPTCP","t":100,"d":2.88},{"s":"so-MPTCP","t":102,"d":2.82},{"s":"so-MPTCP","t":104,"d":2.86},{"s":"so-MPTCP","t":106,"d":2.78},{"s":"so-MPTCP","t":108,"d":2.84},{"s":"so-MPTCP","t":110,"d":2.8},{"s":"so-MPTCP","t":112,"d":2.86},{"s":"so-MPTCP","t":114,"d":2.78},{"s":"so-MPTCP","t":116,"d":2.82},{"s":"so-MPTCP","t":118,"d":2.75},{"s":"so-MPTCP","t":120,"d":2.8},{"s":"so-MPTCP","t":122,"d":2.68},{"s":"so-MPTCP","t":124,"d":2.62},{"s":"so-MPTCP","t":126,"d":2.52},{"s":"so-MPTCP","t":128,"d":2.6},{"s":"so-MPTCP","t":130,"d":2.56},{"s":"so-MPTCP","t":132,"d":2.64},{"s":"so-MPTCP","t":134,"d":2.58},{"s":"so-MPTCP","t":136,"d":2.66},{"s":"so-MPTCP","t":138,"d":2.6},{"s":"so-MPTCP","t":140,"d":2.55},{"s":"so-MPTCP","t":142,"d":2.62},{"s":"so-MPTCP","t":144,"d":2.58},{"s":"so-MPTCP","t":146,"d":2.65},{"s":"so-MPTCP","t":148,"d":2.6},{"s":"so-MPTCP","t":150,"d":2.66},{"s":"so-MPTCP","t":152,"d":2.58},{"s":"so-MPTCP","t":154,"d":2.62},{"s":"so-MPTCP","t":156,"d":2.56},{"s":"so-MPTCP","t":158,"d":2.64},{"s":"so-MPTCP","t":160,"d":2.58},{"s":"so-MPTCP","t":162,"d":2.5},{"s":"so-MPTCP","t":164,"d":2.45},{"s":"so-MPTCP","t":166,"d":2.58},{"s":"so-MPTCP","t":168,"d":2.65},{"s":"so-MPTCP","t":170,"d":2.62},{"s":"so-MPTCP","t":172,"d":2.7},{"s":"so-MPTCP","t":174,"d":2.66},{"s":"so-MPTCP","t":176,"d":2.78},{"s":"so-MPTCP","t":178,"d":2.85},{"s":"so-MPTCP","t":180,"d":2.8},{"s":"so-MPTCP","t":182,"d":2.88},{"s":"so-MPTCP","t":184,"d":2.82},{"s":"so-MPTCP","t":186,"d":2.86},{"s":"so-MPTCP","t":188,"d":2.78},{"s":"so-MPTCP","t":190,"d":2.72},{"s":"so-MPTCP","t":192,"d":2.76},{"s":"so-MPTCP","t":194,"d":2.68},{"s":"so-MPTCP","t":196,"d":2.74},{"s":"so-MPTCP","t":198,"d":2.8},{"s":"so-MPTCP","t":200,"d":2.72},{"s":"so-MPTCP","t":202,"d":2.68},{"s":"so-MPTCP","t":204,"d":2.74},{"s":"so-MPTCP","t":206,"d":2.65},{"s":"so-MPTCP","t":208,"d":2.7},{"s":"so-MPTCP","t":210,"d":2.75},{"s":"so-MPTCP","t":212,"d":2.9},{"s":"so-MPTCP","t":214,"d":3.05},{"s":"so-MPTCP","t":215.5,"d":3.12},{"s":"so-MPTCP","t":217,"d":2.9},{"s":"so-MPTCP","t":219,"d":2.78},{"s":"so-MPTCP","t":221,"d":2.72},{"s":"so-MPTCP","t":223,"d":2.78},{"s":"so-MPTCP","t":225,"d":2.7},{"s":"so-MPTCP","t":227,"d":2.74},{"s":"so-MPTCP","t":229,"d":2.68},{"s":"so-MPTCP","t":231,"d":2.75},{"s":"so-MPTCP","t":233,"d":2.7},{"s":"so-MPTCP","t":235,"d":2.78},{"s":"so-MPTCP","t":237,"d":2.72},{"s":"so-MPTCP","t":239,"d":2.76},{"s":"so-MPTCP","t":241,"d":2.7},{"s":"so-MPTCP","t":243,"d":2.82},{"s":"so-MPTCP","t":245,"d":2.95},{"s":"so-MPTCP","t":247,"d":2.8},{"s":"so-MPTCP","t":249,"d":2.72},{"s":"so-MPTCP","t":251,"d":2.78},{"s":"so-MPTCP","t":253,"d":2.7},{"s":"so-MPTCP","t":255,"d":2.75},{"s":"so-MPTCP","t":257,"d":2.68},{"s":"so-MPTCP","t":259,"d":2.74},{"s":"so-MPTCP","t":261,"d":2.7},{"s":"so-MPTCP","t":263,"d":2.76},{"s":"so-MPTCP","t":265,"d":2.72},{"s":"so-MPTCP","t":267,"d":2.78},{"s":"so-MPTCP","t":269,"d":2.7},{"s":"so-MPTCP","t":271,"d":2.76},{"s":"so-MPTCP","t":273,"d":2.68},{"s":"so-MPTCP","t":275,"d":2.74},{"s":"so-MPTCP","t":277,"d":2.7},{"s":"so-MPTCP","t":279,"d":2.78},{"s":"so-MPTCP","t":281,"d":2.72},{"s":"so-MPTCP","t":283,"d":2.8},{"s":"so-MPTCP","t":285,"d":2.88},{"s":"so-MPTCP","t":287,"d":2.78},{"s":"so-MPTCP","t":289,"d":2.72},{"s":"so-MPTCP","t":291,"d":2.85},{"s":"so-MPTCP","t":293,"d":2.95},{"s":"so-MPTCP","t":295,"d":3.15},{"s":"so-MPTCP","t":297,"d":3.35},{"s":"so-MPTCP","t":298.5,"d":3.48},{"s":"so-MPTCP","t":300,"d":3.3},{"s":"so-MPTCP","t":302,"d":3.15},{"s":"so-MPTCP","t":304,"d":3.0},{"s":"so-MPTCP","t":306,"d":2.92},{"s":"so-MPTCP","t":308,"d":2.85},{"s":"so-MPTCP","t":310,"d":2.8},{"s":"so-MPTCP","t":312,"d":2.75},{"s":"so-MPTCP","t":314,"d":2.8},{"s":"so-MPTCP","t":316,"d":2.72},{"s":"so-MPTCP","t":318,"d":2.68},{"s":"so-MPTCP","t":320,"d":2.72},{"s":"so-MPTCP","t":322,"d":2.65},{"s":"so-MPTCP","t":324,"d":2.6},{"s":"so-MPTCP","t":326,"d":2.56},{"s":"so-MPTCP","t":328,"d":2.6},{"s":"so-MPTCP","t":330,"d":2.48},{"s":"so-MPTCP","t":331.5,"d":2.42},{"s":"so-MPTCP","t":333,"d":2.55},{"s":"so-MPTCP","t":335,"d":2.62},{"s":"so-MPTCP","t":337,"d":2.7},{"s":"so-MPTCP","t":339,"d":2.78},{"s":"so-MPTCP","t":341,"d":2.88},{"s":"so-MPTCP","t":343,"d":2.8},{"s":"so-MPTCP","t":345,"d":2.72},{"s":"so-MPTCP","t":347,"d":2.66},{"s":"so-MPTCP","t":349,"d":2.62},{"s":"so-MPTCP","t":351,"d":2.7},{"s":"so-MPTCP","t":353,"d":2.64},{"s":"so-MPTCP","t":355,"d":2.6},{"s":"so-MPTCP","t":357,"d":2.68},{"s":"so-MPTCP","t":359,"d":2.62},{"s":"so-MPTCP","t":361,"d":2.7},{"s":"so-MPTCP","t":363,"d":2.64},{"s":"so-MPTCP","t":365,"d":2.72},{"s":"so-MPTCP","t":367,"d":2.66},{"s":"so-MPTCP","t":369,"d":2.7},{"s":"so-MPTCP","t":371,"d":2.62},{"s":"so-MPTCP","t":373,"d":2.68},{"s":"so-MPTCP","t":375,"d":2.64},{"s":"so-MPTCP","t":377,"d":2.7},{"s":"so-MPTCP","t":379,"d":2.66},{"s":"so-MPTCP","t":381,"d":2.72},{"s":"so-MPTCP","t":383,"d":2.68},{"s":"so-MPTCP","t":385,"d":2.75},{"s":"so-MPTCP","t":387,"d":2.7},{"s":"so-MPTCP","t":389,"d":2.66},{"s":"so-MPTCP","t":391,"d":2.72},{"s":"so-MPTCP","t":393,"d":2.68},{"s":"so-MPTCP","t":395,"d":2.74},{"s":"so-MPTCP","t":397,"d":2.7},{"s":"so-MPTCP","t":399,"d":2.66},{"s":"so-MPTCP","t":401,"d":2.72},{"s":"so-MPTCP","t":403,"d":2.64},{"s":"so-MPTCP","t":405,"d":2.6},{"s":"so-MPTCP","t":407,"d":2.55},{"s":"so-MPTCP","t":409,"d":2.62},{"s":"so-MPTCP","t":411,"d":2.85},{"s":"so-MPTCP","t":413,"d":3.15},{"s":"so-MPTCP","t":414.5,"d":3.22},{"s":"so-MPTCP","t":416,"d":3.0},{"s":"so-MPTCP","t":418,"d":2.82},{"s":"so-MPTCP","t":420,"d":2.75},{"s":"so-MPTCP","t":422,"d":2.7},{"s":"so-MPTCP","t":424,"d":2.66},{"s":"so-MPTCP","t":426,"d":2.6},{"s":"so-MPTCP","t":428,"d":2.5},{"s":"so-MPTCP","t":430,"d":2.56},{"s":"so-MPTCP","t":432,"d":2.62},{"s":"so-MPTCP","t":434,"d":2.68},{"s":"so-MPTCP","t":436,"d":2.65},{"s":"so-MPTCP","t":438,"d":2.6},{"s":"so-MPTCP","t":440,"d":2.55},{"s":"so-MPTCP","t":442,"d":2.5},{"s":"so-MPTCP","t":444,"d":2.47},{"s":"so-MPTCP","t":446,"d":2.45},{"s":"so-MPTCP","t":448,"d":2.55},{"s":"so-MPTCP","t":450,"d":2.62},{"s":"so-MPTCP","t":452,"d":2.7},{"s":"so-MPTCP","t":454,"d":2.78},{"s":"so-MPTCP","t":456,"d":2.72},{"s":"so-MPTCP","t":458,"d":2.8},{"s":"so-MPTCP","t":460,"d":2.85},{"s":"so-MPTCP","t":462,"d":2.95},{"s":"so-MPTCP","t":464,"d":3.05},{"s":"so-MPTCP","t":466,"d":3.1},{"s":"so-MPTCP","t":468,"d":3.25},{"s":"so-MPTCP","t":470,"d":3.35},{"s":"so-MPTCP","t":472,"d":3.45},{"s":"so-MPTCP","t":474,"d":3.4},{"s":"so-MPTCP","t":476,"d":3.55},{"s":"so-MPTCP","t":478,"d":3.65},{"s":"so-MPTCP","t":479.5,"d":3.75},{"s":"so-MPTCP","t":481,"d":3.65},{"s":"so-MPTCP","t":483,"d":3.55},{"s":"so-MPTCP","t":485,"d":3.45},{"s":"so-MPTCP","t":487,"d":3.3},{"s":"so-MPTCP","t":489,"d":3.1},{"s":"so-MPTCP","t":491,"d":2.95},{"s":"so-MPTCP","t":493,"d":2.85},{"s":"so-MPTCP","t":495,"d":2.75},{"s":"so-MPTCP","t":497,"d":2.6},{"s":"so-MPTCP","t":500,"d":2.5}
],
"bars": [
{"cat":"So-MPTCP","rate":"λ=35","val":0.39},{"cat":"So-MPTCP","rate":"λ=45 Arrival Rate","val":0.65},
{"cat":"eMPTCP","rate":"λ=35","val":0.96},{"cat":"eMPTCP","rate":"λ=45 Arrival Rate","val":2.62},
{"cat":"Base-MPTCP","rate":"λ=35","val":1.0},{"cat":"Base-MPTCP","rate":"λ=45 Arrival Rate","val":3.03}
]
},
"bounds": "flush",
"spacing": 586,
"resolve": {"scale": {"color": "independent", "strokeDash": "independent"}, "legend": {"color": "independent", "strokeDash": "independent"}},
"vconcat": [
{
"bounds": "flush",
"spacing": 94,
"resolve": {"scale": {"color": "independent", "strokeDash": "independent"}, "legend": {"color": "independent", "strokeDash": "independent"}},
"hconcat": [
{
"width": 458, "height": 384,
"data": {"name": "a"},
"view": {"stroke": "black", "strokeWidth": 1},
"title": {"text": "(a)", "orient": "bottom", "anchor": "middle", "offset": 51, "dx": 2, "font": "Liberation Serif", "fontSize": 20, "fontWeight": "normal", "color": "black"},
"encoding": {
"x": {"field": "t", "type": "quantitative", "scale": {"domain": [0, 500], "nice": false},
"axis": {"title": "Simulation Time [s]", "values": [0,100,200,300,400,500], "grid": true, "gridColor": "#111", "gridOpacity": 1, "domainColor": "black", "ticks": false, "labelPadding": 4, "labelFont": "Liberation Serif", "labelFontSize": 16, "labelColor": "black", "titleFont": "Liberation Serif", "titleFontSize": 18, "titleFontWeight": "normal", "titleColor": "black", "titlePadding": 1, "labelFlush": false}},
"y": {"field": "d", "type": "quantitative", "scale": {"domain": [0, 8], "nice": false},
"axis": {"title": "Delay [s]", "values": [0,2,4,6,8], "grid": true, "gridColor": {"condition": {"test": "datum.value === 2", "value": "#111"}, "value": "#8c8c8c"}, "gridOpacity": 1, "domainColor": "black", "ticks": false, "labelPadding": 4, "labelFont": "Liberation Serif", "labelFontSize": 16, "labelColor": "black", "titleFont": "Liberation Serif", "titleFontSize": 18, "titleFontWeight": "normal", "titleColor": "black", "titlePadding": 5, "labelFlush": false}}
},
"layer": [
{"mark": {"type": "line"},
"encoding": {
"color": {"field": "s", "type": "nominal", "scale": {"domain": ["MPTCP", "e-MPTCP", "so-MPTCP"], "range": ["#00ee00", "#ff0000", "#0072bd"]},
"legend": {"title": null, "orient": "top-right", "offset": 5, "strokeColor": "black", "fillColor": "white", "padding": 4, "labelFont": "Liberation Serif", "labelFontSize": 17, "labelColor": "black", "symbolType": "M-1.4,0H1.4", "symbolSize": 400, "symbolStrokeWidth": 1.5, "rowPadding": 2, "labelOffset": 9}},
"strokeDash": {"field": "s", "type": "nominal", "scale": {"domain": ["MPTCP", "e-MPTCP", "so-MPTCP"], "range": [[5,3],[1.5,1.5],[1,0]]},
"legend": {"title": null, "orient": "top-right", "offset": 5, "strokeColor": "black", "fillColor": "white", "padding": 4, "labelFont": "Liberation Serif", "labelFontSize": 17, "labelColor": "black", "symbolType": "M-1.4,0H1.4", "symbolSize": 400, "symbolStrokeWidth": 1.5, "rowPadding": 2, "labelOffset": 9}},
"strokeWidth": {"field": "s", "type": "nominal", "scale": {"domain": ["MPTCP", "e-MPTCP", "so-MPTCP"], "range": [1.3, 1.4, 1.7]}, "legend": null}
}},
{"transform": [{"filter": "datum.s === 'MPTCP'"}], "mark": {"type": "point", "shape": "square", "size": 18, "filled": false, "color": "#00ee00", "strokeWidth": 1.4, "opacity": 1}},
{"transform": [{"filter": "datum.s === 'e-MPTCP'"}], "mark": {"type": "point", "shape": "cross", "size": 16, "filled": true, "color": "#ff0000", "opacity": 1}},
{"transform": [{"filter": "datum.s === 'so-MPTCP'"}], "mark": {"type": "point", "shape": "circle", "size": 4, "filled": true, "color": "#0072bd", "opacity": 1}},
{"data": {"values": [{"label": "λ = 35", "t": 239, "d": 0.9}]}, "mark": {"type": "text", "font": "Liberation Serif", "fontSize": 21, "color": "black"}, "encoding": {"text": {"field": "label"}}}
]
},
{
"bounds": "flush",
"spacing": 0,
"resolve": {"scale": {"color": "independent", "strokeDash": "independent"}, "legend": {"color": "independent", "strokeDash": "independent"}},
"vconcat": [
{"width": 10, "height": 12, "data": {"values": []}, "mark": "point", "view": {"stroke": null}},
{
"width": 469, "height": 377,
"data": {"name": "b"},
"view": {"stroke": "black", "strokeWidth": 1},
"title": {"text": "(b)", "orient": "bottom", "anchor": "middle", "offset": 34, "dx": 17, "font": "Liberation Serif", "fontSize": 20, "fontWeight": "normal", "color": "black"},
"encoding": {
"x": {"field": "t", "type": "quantitative", "scale": {"domain": [0, 500], "nice": false},
"axis": {"title": "Simulation Time [s]", "values": [0,100,200,300,400,500], "grid": true, "gridColor": {"condition": {"test": "datum.value >= 300", "value": "#111"}, "value": "#888"}, "gridOpacity": 1, "domainColor": "black", "ticks": false, "labelPadding": 4, "labelFont": "Liberation Serif", "labelFontSize": 16, "labelColor": "black", "titleFont": "Liberation Serif", "titleFontSize": 18, "titleFontWeight": "normal", "titleColor": "black", "titlePadding": 1, "labelFlush": false}},
"y": {"field": "d", "type": "quantitative", "scale": {"domain": [0, 16], "nice": false},
"axis": {"title": "Delay [s]", "values": [0,4,8,12,16], "grid": true, "gridColor": {"condition": {"test": "datum.value === 12", "value": "#999"}, "value": "#333"}, "gridOpacity": 1, "domainColor": "black", "ticks": false, "labelPadding": 5, "labelFont": "Liberation Serif", "labelFontSize": 16, "labelColor": "black", "titleFont": "Liberation Serif", "titleFontSize": 18, "titleFontWeight": "normal", "titleColor": "black", "titlePadding": 7, "labelFlush": false}}
},
"layer": [
{"mark": {"type": "line"},
"encoding": {
"color": {"field": "s", "type": "nominal", "scale": {"domain": ["MPTCP", "e-MPTCP", "so-MPTCP"], "range": ["#00ee00", "#ff0000", "#0072bd"]},
"legend": {"title": null, "orient": "top-right", "offset": 3, "strokeColor": "black", "fillColor": "white", "padding": 4, "labelFont": "Liberation Serif", "labelFontSize": 15, "labelColor": "black", "symbolType": "M-1.4,0H1.4", "symbolSize": 400, "symbolStrokeWidth": 1.5, "rowPadding": 1, "labelOffset": 9}},
"strokeDash": {"field": "s", "type": "nominal", "scale": {"domain": ["MPTCP", "e-MPTCP", "so-MPTCP"], "range": [[5,3],[1.5,1.5],[1,0]]},
"legend": {"title": null, "orient": "top-right", "offset": 3, "strokeColor": "black", "fillColor": "white", "padding": 4, "labelFont": "Liberation Serif", "labelFontSize": 15, "labelColor": "black", "symbolType": "M-1.4,0H1.4", "symbolSize": 400, "symbolStrokeWidth": 1.5, "rowPadding": 1, "labelOffset": 9}},
"strokeWidth": {"field": "s", "type": "nominal", "scale": {"domain": ["MPTCP", "e-MPTCP", "so-MPTCP"], "range": [1.3, 1.4, 1.7]}, "legend": null}
}},
{"transform": [{"filter": "datum.s === 'MPTCP'"}], "mark": {"type": "point", "shape": "square", "size": 18, "filled": false, "color": "#00ee00", "strokeWidth": 1.4, "opacity": 1}},
{"transform": [{"filter": "datum.s === 'e-MPTCP'"}], "mark": {"type": "point", "shape": "cross", "size": 16, "filled": true, "color": "#ff0000", "opacity": 1}},
{"transform": [{"filter": "datum.s === 'so-MPTCP'"}], "mark": {"type": "point", "shape": "circle", "size": 4, "filled": true, "color": "#0072bd", "opacity": 1}},
{"data": {"values": [{"label": "λ = 45", "t": 251, "d": 1.0}]}, "mark": {"type": "text", "font": "Liberation Serif", "fontSize": 21, "color": "black"}, "encoding": {"text": {"field": "label"}}}
]
}
]
}
]
},
{
"bounds": "flush",
"spacing": 0,
"resolve": {"scale": {"color": "independent"}, "legend": {"color": "independent"}},
"hconcat": [
{"width": 279, "height": 10, "data": {"values": []}, "mark": "point", "view": {"stroke": null}},
{
"width": 476, "height": 242,
"data": {"name": "bars"},
"view": {"stroke": null},
"title": {"text": "Average Delay (s)", "anchor": "middle", "dx": -27, "offset": 21, "font": "Liberation Serif", "fontSize": 19, "fontWeight": "bold", "color": "#595959"},
"mark": {"type": "bar"},
"encoding": {
"x": {"field": "cat", "type": "nominal", "sort": ["So-MPTCP", "eMPTCP", "Base-MPTCP"], "scale": {"paddingInner": 0, "paddingOuter": 0},
"axis": {"title": "(c)", "titleFont": "Liberation Serif", "titleFontSize": 20, "titleFontWeight": "normal", "titleColor": "black", "titlePadding": 62, "labelAngle": 0, "labelFont": "Liberation Serif", "labelFontSize": 15, "labelFontWeight": "bold", "labelColor": "#404040", "labelPadding": 12, "ticks": false, "domain": false}},
"xOffset": {"field": "rate", "type": "nominal", "sort": ["λ=35", "λ=45 Arrival Rate"], "scale": {"paddingInner": 0.184, "paddingOuter": 0.914}},
"y": {"field": "val", "type": "quantitative", "scale": {"domain": [0, 3.5], "nice": false},
"axis": {"title": "seconds", "values": [0,0.5,1,1.5,2,2.5,3,3.5], "format": "~g", "grid": true, "gridColor": "#d9d9d9", "domain": false, "ticks": false, "labelFont": "Lato", "labelFontSize": 13, "labelColor": "#595959", "labelPadding": 12, "titleFont": "Liberation Serif", "titleFontSize": 14, "titleFontWeight": "bold", "titleColor": "#595959", "titlePadding": 8}},
"color": {"field": "rate", "type": "nominal", "sort": ["λ=35", "λ=45 Arrival Rate"], "scale": {"domain": ["λ=35", "λ=45 Arrival Rate"], "range": ["#4472c4", "#ed7d31"]},
"legend": {"title": null, "orient": "none", "legendX": 112, "legendY": 292, "direction": "horizontal", "symbolType": "square", "symbolSize": 100, "symbolStrokeWidth": 0, "labelFont": "Liberation Serif", "labelFontSize": 15, "labelFontWeight": "bold", "labelColor": "#404040", "columnPadding": 12, "labelOffset": 3}}
}
}
]
}
]
}
